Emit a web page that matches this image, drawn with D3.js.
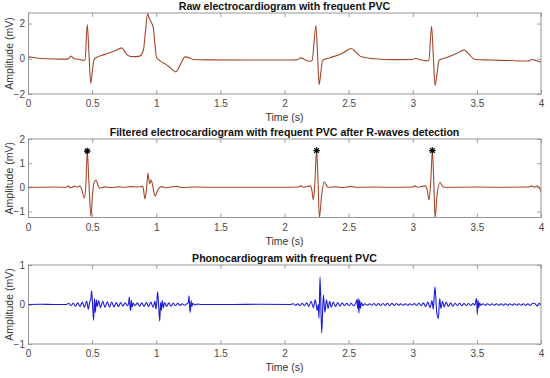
<!DOCTYPE html>
<html><head><meta charset="utf-8">
<script src="https://cdn.jsdelivr.net/npm/d3@7"></script>
<style>body{margin:0;background:#fff}svg{display:block}text{font-family:"Liberation Sans",Arial,sans-serif}</style>
</head><body><svg id="c" width="550" height="378"></svg>
<script>
// ---------- data ----------
const timeTicks = [0, 0.5, 1, 1.5, 2, 2.5, 3, 3.5, 4];
const rawTicks = [-2, 0, 2];
const filtTicks = [-1, 0, 1, 2];
const pcgTicks = [-1, 0, 1];
const titles = [
  "Raw electrocardiogram with frequent PVC",
  "Filtered electrocardiogram with frequent PVC after R-waves detection",
  "Phonocardiogram with frequent PVC"
];
const xLabel = "Time (s)";
const yLabel = "Amplitude (mV)";

const rawECG = [
  [0,0.11],[0.03,0.09],[0.08,0.03],[0.15,0.0],[0.25,-0.02],[0.31,-0.02],[0.335,0.15],[0.36,0.0],
  [0.40,-0.03],[0.43,-0.08],[0.445,-0.05],[0.462,1.94],[0.476,0.2],[0.489,-1.40],[0.50,-0.8],
  [0.515,-0.05],[0.53,0.06],[0.6,0.25],[0.68,0.45],[0.73,0.62],[0.76,0.35],[0.78,0.19],[0.82,0.12],
  [0.87,0.15],[0.90,0.5],[0.915,1.5],[0.933,2.57],[0.945,2.3],[0.957,2.13],[0.977,1.76],[0.99,0.8],
  [1.003,0.06],[1.03,-0.12],[1.055,-0.23],[1.10,-0.45],[1.152,-0.74],[1.19,-0.3],[1.224,0.11],
  [1.26,0.05],[1.29,-0.04],[1.4,-0.06],[1.7,-0.07],[2.0,-0.07],[2.095,-0.06],[2.13,0.05],[2.16,-0.06],
  [2.2,-0.14],[2.215,-0.1],[2.245,1.89],[2.258,0.2],[2.27,-1.46],[2.283,-0.8],[2.297,-0.08],[2.35,0.05],
  [2.45,0.3],[2.52,0.58],[2.56,0.35],[2.6,0.11],[2.7,0.0],[2.85,-0.05],[3.0,-0.04],[3.02,0.03],
  [3.05,-0.04],[3.11,-0.12],[3.125,-0.1],[3.147,1.85],[3.16,0.2],[3.174,-1.51],[3.19,-0.8],[3.205,-0.08],
  [3.26,0.06],[3.34,0.3],[3.4,0.49],[3.44,0.25],[3.485,-0.04],[3.6,-0.07],[3.75,-0.1],[3.9,-0.13],
  [3.93,-0.04],[3.96,-0.1],[4.0,-0.19]
];

const filtECG = [
  [0,0.0],[0.1,0.0],[0.2,0.01],[0.3,0.0],[0.315,0.06],[0.33,-0.02],[0.366,0.05],[0.38,0.0],[0.405,0.06],
  [0.42,-0.1],[0.44,-0.45],[0.452,0.2],[0.462,1.5],[0.475,0.2],[0.491,-1.21],[0.503,-0.3],[0.515,0.2],
  [0.53,0.3],[0.545,0.1],[0.56,-0.04],[0.6,0.02],[0.65,-0.01],[0.7,0.02],[0.75,0.0],[0.8,0.03],
  [0.85,0.01],[0.895,0.04],[0.912,-0.48],[0.925,0.0],[0.936,0.58],[0.948,0.15],[0.96,0.3],[0.975,0.0],
  [0.99,-0.36],[1.016,-0.07],[1.04,0.03],[1.08,-0.02],[1.12,0.02],[1.16,0.04],[1.2,-0.01],[1.3,0.01],
  [1.5,0.0],[1.8,0.0],[2.0,0.0],[2.1,0.01],[2.13,0.06],[2.15,0.0],[2.2,0.06],[2.213,-0.1],[2.225,-0.52],
  [2.237,0.2],[2.25,1.52],[2.262,0.2],[2.272,-1.25],[2.29,-0.3],[2.31,0.23],[2.325,0.1],[2.34,0.0],
  [2.4,0.02],[2.45,-0.01],[2.52,0.04],[2.55,0.0],[2.7,0.01],[2.85,0.0],[3.0,0.01],[3.017,0.06],[3.04,0.0],
  [3.095,0.06],[3.112,-0.1],[3.127,-0.52],[3.14,0.2],[3.153,1.52],[3.164,0.2],[3.174,-1.25],[3.19,-0.3],
  [3.213,0.2],[3.23,0.05],[3.25,0.0],[3.5,0.01],[3.7,0.0],[3.9,0.01],[3.93,0.06],[3.95,0.0],[3.966,0.05],
  [3.985,0.0],[4.0,-0.18]
];

const rPeaks = [[0.462,1.5],[2.25,1.52],[3.153,1.52]];

const pcg = [
  [0,0.0],[0.1,0.005],[0.2,0.0],[0.3,0.0],[0.318,0.03],[0.335,-0.03],[0.353,0.03],[0.370,-0.04],[0.388,0.04],
  [0.405,-0.05],[0.423,0.06],[0.440,-0.07],[0.458,0.09],[0.470,-0.12],[0.480,0.05],[0.490,0.15],[0.497,0.35],
  [0.505,-0.1],[0.512,-0.4],[0.518,0.15],[0.525,-0.2],[0.533,0.12],[0.540,-0.06],[0.550,0.1],[0.565,-0.08],
  [0.583,0.08],[0.600,-0.07],[0.618,0.07],[0.635,-0.06],[0.653,0.06],[0.670,-0.06],[0.688,0.05],[0.705,-0.05],
  [0.723,0.05],[0.740,-0.04],[0.758,0.04],[0.775,-0.03],[0.785,0.05],[0.79,0.19],[0.795,-0.05],[0.80,-0.15],
  [0.806,0.1],[0.812,-0.06],[0.82,0.03],[0.835,-0.03],[0.853,0.04],[0.870,-0.04],[0.888,0.04],[0.905,-0.05],
  [0.923,0.05],[0.940,-0.05],[0.958,0.06],[0.975,-0.07],[0.99,0.08],[0.998,-0.12],[1.005,0.1],[1.011,0.32],
  [1.019,-0.05],[1.027,-0.42],[1.034,0.05],[1.04,-0.15],[1.047,0.1],[1.055,-0.08],[1.065,0.05],[1.08,-0.05],
  [1.098,0.04],[1.115,-0.04],[1.133,0.03],[1.15,-0.03],[1.168,0.03],[1.185,-0.02],[1.203,0.02],[1.22,-0.02],
  [1.238,0.02],[1.25,0.05],[1.255,0.22],[1.26,-0.05],[1.265,-0.2],[1.272,0.1],[1.278,-0.05],[1.285,0.03],
  [1.3,-0.01],[1.32,0.01],[1.35,0.0],[1.6,0.0],[1.8,0.005],[2.05,0.0],[2.068,0.02],[2.085,-0.02],[2.103,0.02],
  [2.12,-0.03],[2.138,0.03],[2.155,-0.03],[2.173,0.04],[2.19,-0.05],[2.208,0.08],[2.225,-0.08],[2.24,0.12],
  [2.255,-0.15],[2.263,0.0],[2.269,-0.35],[2.277,0.7],[2.29,-0.72],[2.303,0.24],[2.315,-0.2],[2.327,0.12],
  [2.34,-0.1],[2.352,0.08],[2.365,-0.07],[2.38,0.06],[2.398,-0.05],[2.415,0.05],[2.433,-0.04],[2.45,0.04],
  [2.468,-0.03],[2.485,0.03],[2.503,-0.03],[2.52,0.03],[2.538,-0.03],[2.555,0.03],[2.565,0.12],[2.57,-0.1],
  [2.575,0.15],[2.58,-0.22],[2.586,0.12],[2.592,-0.1],[2.6,0.05],[2.61,-0.03],[2.628,0.02],[2.645,-0.02],
  [2.663,0.02],[2.68,-0.02],[2.698,0.025],[2.715,-0.025],[2.733,0.025],[2.75,-0.025],[2.768,0.025],
  [2.785,-0.025],[2.803,0.03],[2.82,-0.03],[2.838,0.03],[2.855,-0.025],[2.873,0.025],[2.89,-0.02],
  [2.908,0.02],[2.925,-0.02],[2.943,0.02],[2.96,-0.02],[2.978,0.02],[2.995,-0.02],[3.013,0.025],
  [3.03,-0.025],[3.048,0.03],[3.065,-0.03],[3.083,0.04],[3.1,-0.05],[3.118,0.06],[3.135,-0.08],[3.15,0.1],
  [3.16,-0.12],[3.173,0.45],[3.187,-0.2],[3.2,-0.35],[3.21,0.15],[3.22,-0.1],[3.232,0.08],[3.245,-0.06],
  [3.26,0.06],[3.278,-0.05],[3.295,0.04],[3.313,-0.04],[3.33,0.03],[3.348,-0.03],[3.365,0.03],[3.383,-0.03],
  [3.4,0.025],[3.418,-0.025],[3.435,0.025],[3.453,-0.025],[3.47,0.025],[3.485,-0.02],[3.492,0.1],
  [3.498,0.15],[3.503,-0.25],[3.509,0.1],[3.515,-0.08],[3.522,0.04],[3.53,-0.02],[3.548,0.02],[3.565,-0.02],
  [3.583,0.02],[3.6,-0.02],[3.618,0.02],[3.635,-0.02],[3.653,0.02],[3.67,-0.02],[3.688,0.02],[3.705,-0.02],
  [3.723,0.02],[3.74,-0.02],[3.758,0.02],[3.775,-0.02],[3.793,0.02],[3.81,-0.02],[3.828,0.02],[3.845,-0.02],
  [3.863,0.02],[3.88,-0.02],[3.898,0.02],[3.915,-0.025],[3.933,0.025],[3.95,0.03],[3.97,-0.04],[3.985,0.03],
  [4.0,-0.01]
];

// ---------- layout ----------
const left = 28, right = 541;
const panels = [
  {top:13, bottom:94, domain:[-2,2.6], ticks:rawTicks, data:rawECG, color:"#a3472b", title:titles[0]},
  {top:139, bottom:217.5, domain:[-1.25,2], ticks:filtTicks, data:filtECG, color:"#a3472b", title:titles[1], peaks:rPeaks},
  {top:265, bottom:344, domain:[-1,1], ticks:pcgTicks, data:pcg, color:"#1c1cd6", title:titles[2]}
];

const svg = d3.select("#c");
const x = d3.scaleLinear().domain([0,4]).range([left,right]);
const axisColor = "#8a8a8a";
const tickColor = "#4a4a4a";

const star = {
  draw(ctx, size) {
    const r = Math.sqrt(size) / 2, d = r * 0.72;
    ctx.moveTo(-r,0); ctx.lineTo(r,0);
    ctx.moveTo(0,-r); ctx.lineTo(0,r);
    ctx.moveTo(-d,-d); ctx.lineTo(d,d);
    ctx.moveTo(-d,d); ctx.lineTo(d,-d);
  }
};

panels.forEach((p, i) => {
  const y = d3.scaleLinear().domain(p.domain).range([p.bottom, p.top]);
  const g = svg.append("g");
  const clipId = "clip" + i;
  svg.append("clipPath").attr("id", clipId).append("rect")
    .attr("x", left).attr("y", p.top).attr("width", right-left).attr("height", p.bottom-p.top);

  const tl = 4;
  const xb = g.append("g").attr("transform", `translate(0,${p.bottom})`)
    .call(d3.axisBottom(x).tickValues(timeTicks).tickSizeInner(-tl).tickSizeOuter(0).tickPadding(6).tickFormat(d3.format("")));
  const xt = g.append("g").attr("transform", `translate(0,${p.top})`)
    .call(d3.axisTop(x).tickValues(timeTicks).tickSizeInner(-tl).tickSizeOuter(0).tickFormat(""));
  const yl = g.append("g").attr("transform", `translate(${left},0)`)
    .call(d3.axisLeft(y).tickValues(p.ticks).tickSizeInner(-tl).tickSizeOuter(0).tickPadding(3).tickFormat(d3.format("")));
  const yr = g.append("g").attr("transform", `translate(${right},0)`)
    .call(d3.axisRight(y).tickValues(p.ticks).tickSizeInner(-tl).tickSizeOuter(0).tickFormat(""));
  [xb, xt, yl, yr].forEach(a => {
    a.select(".domain").remove();
    a.selectAll(".tick line").attr("stroke", axisColor).attr("stroke-width", 0.8);
    a.selectAll(".tick text").attr("fill", tickColor).attr("font-size", 10).attr("font-family", '"Liberation Sans",Arial,sans-serif');
  });
  xb.selectAll(".tick text").attr("dy", "0.72em");

  const line = d3.line().x(d => x(d[0])).y(d => y(d[1])).curve(d3.curveMonotoneX);
  g.append("path").datum(p.data).attr("clip-path", `url(#${clipId})`)
    .attr("fill", "none").attr("stroke", p.color).attr("stroke-width", 1.1)
    .attr("stroke-linejoin", "round").attr("d", line);

  if (p.peaks) {
    g.selectAll(".pk").data(p.peaks).join("path")
      .attr("transform", d => `translate(${x(d[0])},${y(d[1])})`)
      .attr("d", d3.symbol().type(star).size(42))
      .attr("fill", "none").attr("stroke", "#000").attr("stroke-width", 1.2);
  }

  g.append("rect").attr("x", left+0.5).attr("y", p.top).attr("width", right-left-0.5).attr("height", p.bottom-p.top)
    .attr("fill", "none").attr("stroke", axisColor).attr("stroke-width", 0.9);

  g.append("text").attr("x", (left+right)/2).attr("y", p.top - 3.5)
    .attr("text-anchor", "middle").attr("font-weight", "bold").attr("font-size", 10.6).attr("fill", "#111")
    .text(p.title);
  g.append("text").attr("x", (left+right)/2).attr("y", p.bottom + 27)
    .attr("text-anchor", "middle").attr("font-size", 10.5).attr("fill", "#333").text(xLabel);
  g.append("text").attr("transform", `translate(9.5,${(p.top+p.bottom)/2}) rotate(-90)`)
    .attr("text-anchor", "middle").attr("dy", "0.35em").attr("font-size", 10.5).attr("fill", "#333").text(yLabel);
});
</script></body></html>
